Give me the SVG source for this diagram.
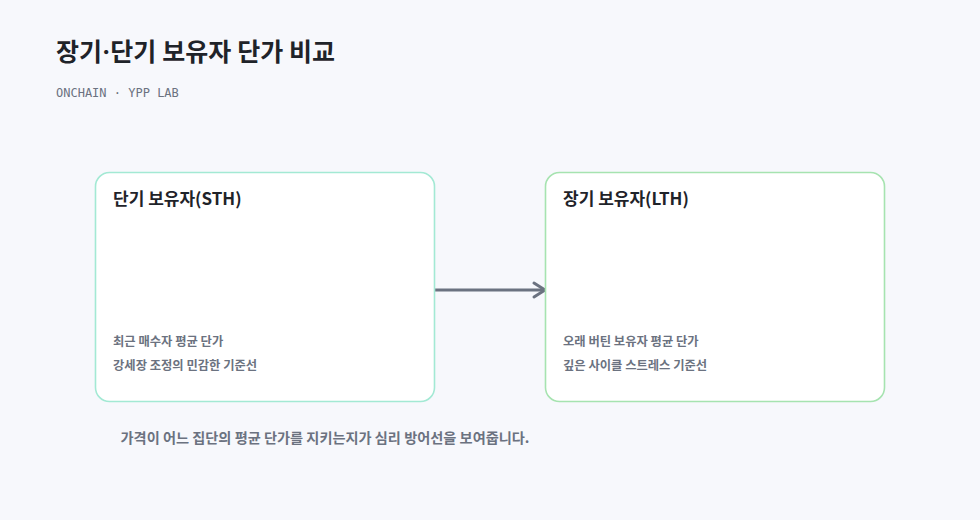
<svg xmlns="http://www.w3.org/2000/svg" width="980" height="520" viewBox="0 0 980 520">
<style>
.t{font-family:"Noto Sans CJK KR","Noto Sans",sans-serif}
.title{font-family:"Inter","Noto Sans CJK KR",sans-serif;font-size:25px;font-weight:700;fill:#1f2329}
.sub{font-family:"DejaVu Sans Mono","Liberation Mono",monospace;font-size:12px;fill:#6b7280}
.box{fill:#ffffff;stroke-width:1.6}
.h{font-size:17px;font-weight:700;fill:#1f2329}
.d{font-size:12.3px;font-weight:700;fill:#6b7280}
.cap{font-size:14.2px;font-weight:700;fill:#6b7280}
.edge{stroke:#6b7280;stroke-width:3;fill:none;stroke-linecap:round;stroke-linejoin:round}
</style>
<rect width="980" height="520" fill="#f7f8fc"/>
<text class="title" x="56" y="61">장기·단기 보유자 단가 비교</text>
<text class="sub" x="56" y="97">ONCHAIN · YPP LAB</text>
<g id="connectors">
<path class="edge" d="M435 290 L545 290"/>
<path class="edge" d="M534 283 L545 290 L534 297"/>
</g>
<g id="sth">
<rect class="box" x="95.5" y="172.5" width="339" height="229" rx="14" stroke="#a3e9d4"/>
<text class="t h" x="113" y="205">단기 보유자(STH)</text>
<text class="t d" x="113" y="346">최근 매수자 평균 단가</text>
<text class="t d" x="113" y="370">강세장 조정의 민감한 기준선</text>
</g>
<g id="lth">
<rect class="box" x="545.5" y="172.5" width="339" height="229" rx="14" stroke="#a6e3b0"/>
<text class="t h" x="563" y="205">장기 보유자(LTH)</text>
<text class="t d" x="563" y="346">오래 버틴 보유자 평균 단가</text>
<text class="t d" x="563" y="370">깊은 사이클 스트레스 기준선</text>
</g>
<text class="t cap" x="325" y="443" text-anchor="middle">가격이 어느 집단의 평균 단가를 지키는지가 심리 방어선을 보여줍니다.</text>
</svg>
